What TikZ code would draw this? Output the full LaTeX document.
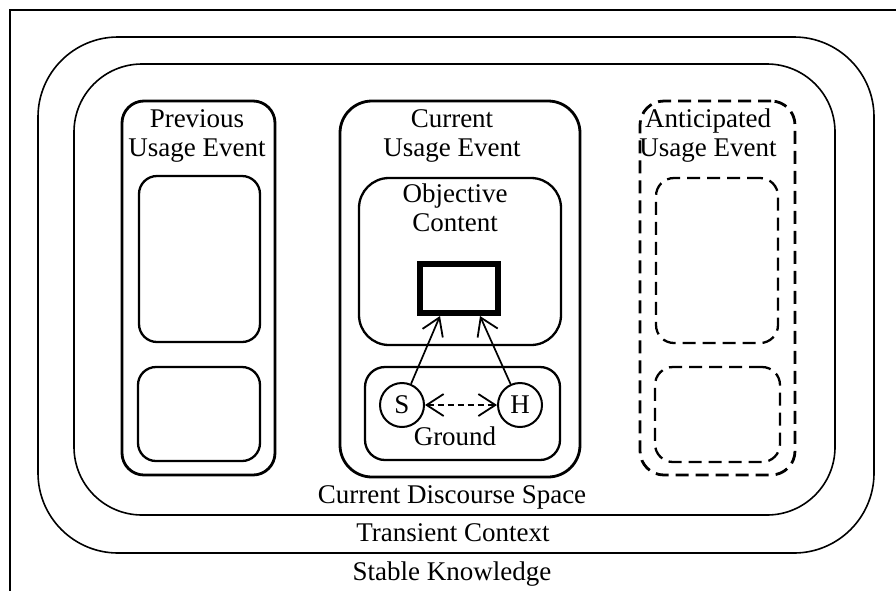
\documentclass[tikz,border=0pt]{standalone}
\usepackage{fontspec}
\setmainfont{Liberation Serif}
\usetikzlibrary{arrows.meta}
\begin{document}
\begin{tikzpicture}[x=1pt,y=-1pt,
  box/.style={draw, rectangle, inner sep=0pt},
  ring/.style={box, line width=1.6pt},
  event/.style={box, line width=2.8pt},
  innerbox/.style={box, line width=2.3pt, rounded corners=18pt},
  dashbox/.style={dash pattern=on 13pt off 7pt},
  lbl/.style={font=\fontsize{27}{29}\selectfont, align=center, inner sep=0pt},
  tip/.tip={Straight Barb[length=17pt,width=22pt,line width=1.8pt]},
  arr/.style={-tip, line width=1.7pt},
  pers/.style={draw, circle, line width=2pt, minimum size=44pt, inner sep=0pt, font=\fontsize{27}{27}\selectfont}]
\useasboundingbox (0,0) rectangle (896,590);
% frame
\draw[line width=1.8pt] (10,620) -- (10,10) -- (920,10);
% rings
\node[ring, rounded corners=80pt, minimum width=836pt, minimum height=516pt] (stable) at (456,295) {};
\node[ring, rounded corners=68pt, minimum width=761pt, minimum height=451pt] (transient) at (454.5,289.5) {};
% previous usage event
\node[event, rounded corners=22pt, minimum width=153pt, minimum height=374pt] (prev) at (198.5,288) {};
\node[innerbox, minimum width=121pt, minimum height=166pt] (prevtop) at (199.5,259) {};
\node[innerbox, minimum width=122pt, minimum height=94pt] (prevbot) at (199,414) {};
\node[lbl, anchor=north] (prevlbl) at (197,109) {Previous\\Usage Event};
% current usage event
\node[event, rounded corners=32pt, minimum width=240pt, minimum height=376pt] (cur) at (460,289) {};
\node[innerbox, rounded corners=30pt, minimum width=202pt, minimum height=167pt] (obj) at (460,261.5) {};
\node[innerbox, rounded corners=20pt, minimum width=195pt, minimum height=93pt] (ground) at (462.5,413.5) {};
\node[lbl, anchor=north] (curlbl) at (452,109) {Current\\Usage Event};
\node[lbl, anchor=north] (objlbl) at (455,184) {Objective\\Content};
\node[lbl, anchor=base] (groundlbl) at (455,445) {Ground};
\node[box, line width=6pt, minimum width=78pt, minimum height=49pt] (rect) at (459,288.5) {};
\node[pers] (S) at (402,405) {S};
\node[pers] (H) at (520,405) {H};
\draw[arr] (S) -- ([xshift=-19pt]rect.south);
\draw[arr] (H) -- ([xshift=21pt]rect.south);
\draw[tip-tip, line width=1.5pt, dash pattern=on 6pt off 4pt] (S) -- (H);
% anticipated usage event
\node[event, dashbox, rounded corners=24pt, minimum width=155pt, minimum height=374pt] (ant) at (717.5,288) {};
\node[innerbox, dashbox, minimum width=122pt, minimum height=165pt] (anttop) at (717,260.5) {};
\node[innerbox, dashbox, minimum width=125pt, minimum height=95pt] (antbot) at (717.5,414.5) {};
\node[lbl, anchor=north] (antlbl) at (708,109) {Anticipated\\Usage Event};
% ring labels
\node[lbl, anchor=base] (cds) at (452,503) {Current Discourse Space};
\node[lbl, anchor=base] (tc) at (453,541) {Transient Context};
\node[lbl, anchor=base] (sk) at (452,580) {Stable Knowledge};
\end{tikzpicture}
\end{document}
